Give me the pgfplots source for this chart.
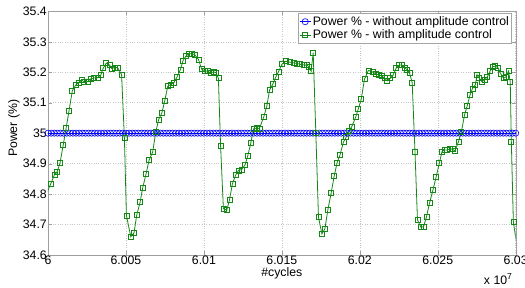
\documentclass[border=0pt]{standalone}
\usepackage{fontspec}
\setmainfont{Liberation Sans}
\usepackage{pgfplots}
\pgfplotsset{compat=1.18}
\definecolor{mgreen}{RGB}{20,135,20}
\definecolor{mblue}{RGB}{0,0,255}
\newcommand\fs{\fontsize{12.3}{14}\selectfont}
\begin{document}
\begin{tikzpicture}
\begin{axis}[
  name=ax,
  scale only axis, width=467.7pt, height=243.7pt,
  xmin=6, xmax=6.03, ymin=34.6, ymax=35.4,
  xtick={6,6.005,6.01,6.015,6.02,6.025,6.03},
  xticklabels={6,6.005,6.01,6.015,6.02,6.025,6.03},
  ytick={34.6,34.7,34.8,34.9,35,35.1,35.2,35.3,35.4},
  yticklabels={34.6,34.7,34.8,34.9,35,35.1,35.2,35.3,35.4},
  grid=major, major grid style={gray!45, dotted, line width=0.5pt},
  axis line style={gray!75},
  tick style={gray!75}, tick align=inside, major tick length=4pt,
  ticklabel style={font=\fs},
  xticklabel style={inner sep=1pt},
  yticklabel style={inner sep=1pt},
  /pgf/number format/assume math mode=true,
  xlabel={\#cycles}, ylabel={Power (\%)},
  xlabel style={font=\fs, at={(axis description cs:0.5,0)}, anchor=center, yshift=-18pt},
  ylabel style={font=\fs, at={(axis description cs:-0.073,0.52)}, anchor=center},
  legend style={font=\fs, at={(axis description cs:1,1)}, anchor=north east, xshift=-4pt, yshift=-2pt,
    draw=gray!70, inner xsep=1pt, inner ysep=1.5pt, nodes={inner sep=1.5pt}, cells={anchor=west}},
  legend image code/.code={\draw[mark repeat=2,mark phase=2] plot coordinates {(0cm,0cm) (0.2cm,0cm) (0.4cm,0cm)};},
]
\addplot[mblue, line width=0.8pt, mark=o, mark size=3.1pt, mark options={solid, line width=0.6pt}] coordinates {
(6.0000,35)(6.0002,35)(6.0004,35)(6.0006,35)(6.0008,35)(6.0010,35)(6.0012,35)(6.0014,35)(6.0016,35)(6.0018,35)
(6.0020,35)(6.0022,35)(6.0024,35)(6.0026,35)(6.0028,35)(6.0030,35)(6.0032,35)(6.0034,35)(6.0036,35)(6.0038,35)
(6.0040,35)(6.0042,35)(6.0044,35)(6.0046,35)(6.0048,35)(6.0050,35)(6.0052,35)(6.0054,35)(6.0056,35)(6.0058,35)
(6.0060,35)(6.0062,35)(6.0064,35)(6.0066,35)(6.0068,35)(6.0070,35)(6.0072,35)(6.0074,35)(6.0076,35)(6.0078,35)
(6.0080,35)(6.0082,35)(6.0084,35)(6.0086,35)(6.0088,35)(6.0090,35)(6.0092,35)(6.0094,35)(6.0096,35)(6.0098,35)
(6.0100,35)(6.0102,35)(6.0104,35)(6.0106,35)(6.0108,35)(6.0110,35)(6.0112,35)(6.0114,35)(6.0116,35)(6.0118,35)
(6.0120,35)(6.0122,35)(6.0124,35)(6.0126,35)(6.0128,35)(6.0130,35)(6.0132,35)(6.0134,35)(6.0136,35)(6.0138,35)
(6.0140,35)(6.0142,35)(6.0144,35)(6.0146,35)(6.0148,35)(6.0150,35)(6.0152,35)(6.0154,35)(6.0156,35)(6.0158,35)
(6.0160,35)(6.0162,35)(6.0164,35)(6.0166,35)(6.0168,35)(6.0170,35)(6.0172,35)(6.0174,35)(6.0176,35)(6.0178,35)
(6.0180,35)(6.0182,35)(6.0184,35)(6.0186,35)(6.0188,35)(6.0190,35)(6.0192,35)(6.0194,35)(6.0196,35)(6.0198,35)
(6.0200,35)(6.0202,35)(6.0204,35)(6.0206,35)(6.0208,35)(6.0210,35)(6.0212,35)(6.0214,35)(6.0216,35)(6.0218,35)
(6.0220,35)(6.0222,35)(6.0224,35)(6.0226,35)(6.0228,35)(6.0230,35)(6.0232,35)(6.0234,35)(6.0236,35)(6.0238,35)
(6.0240,35)(6.0242,35)(6.0244,35)(6.0246,35)(6.0248,35)(6.0250,35)(6.0252,35)(6.0254,35)(6.0256,35)(6.0258,35)
(6.0260,35)(6.0262,35)(6.0264,35)(6.0266,35)(6.0268,35)(6.0270,35)(6.0272,35)(6.0274,35)(6.0276,35)(6.0278,35)
(6.0280,35)(6.0282,35)(6.0284,35)(6.0286,35)(6.0288,35)(6.0290,35)(6.0292,35)(6.0294,35)(6.0296,35)(6.0298,35)
(6.0300,35)
};
\addlegendentry{Power \% - without amplitude control}
\addplot[mgreen, line width=0.8pt, mark=square, mark size=2.5pt, mark options={solid, line width=0.7pt}] coordinates {
(6.00017,34.833)(6.00041,34.863)(6.00058,34.872)(6.00077,34.902)(6.00098,34.962)(6.00116,35.016)
(6.00135,35.074)(6.00156,35.139)(6.00178,35.158)(6.00195,35.165)(6.00216,35.174)(6.00233,35.168)
(6.00255,35.170)(6.00276,35.179)(6.00297,35.181)(6.00317,35.182)(6.00338,35.190)(6.00355,35.214)
(6.00374,35.230)(6.00394,35.224)(6.00409,35.212)(6.00426,35.216)(6.00447,35.215)(6.00472,35.192)
(6.00490,34.985)(6.00503,34.730)(6.00531,34.660)(6.00552,34.673)(6.00569,34.731)(6.00591,34.774)
(6.00608,34.822)(6.00629,34.866)(6.00648,34.911)(6.00672,34.939)(6.00691,35.003)(6.00710,35.045)
(6.00730,35.066)(6.00749,35.106)(6.00768,35.154)(6.00787,35.160)(6.00807,35.165)(6.00828,35.185)
(6.00849,35.208)(6.00866,35.238)(6.00886,35.254)(6.00905,35.261)(6.00922,35.261)(6.00941,35.258)
(6.00965,35.242)(6.00986,35.210)(6.01005,35.205)(6.01025,35.203)(6.01042,35.198)(6.01062,35.201)
(6.01078,35.199)(6.01093,35.180)(6.01107,34.959)(6.01125,34.752)(6.01147,34.747)(6.01164,34.781)
(6.01183,34.834)(6.01205,34.864)(6.01221,34.877)(6.01243,34.881)(6.01264,34.896)(6.01282,34.927)
(6.01301,34.968)(6.01318,35.014)(6.01339,35.017)(6.01356,35.015)(6.01385,35.055)(6.01404,35.090)
(6.01421,35.141)(6.01442,35.161)(6.01461,35.184)(6.01478,35.201)(6.01500,35.226)(6.01525,35.236)
(6.01553,35.233)(6.01574,35.231)(6.01596,35.229)(6.01617,35.226)(6.01639,35.224)(6.01660,35.223)
(6.01675,35.218)(6.01688,35.203)(6.01701,35.264)(6.01718,35.000)(6.01735,34.724)(6.01757,34.669)
(6.01776,34.686)(6.01795,34.748)(6.01816,34.803)(6.01836,34.860)(6.01855,34.904)(6.01874,34.930)
(6.01895,34.971)(6.01913,34.987)(6.01930,35.006)(6.01949,35.022)(6.01973,35.052)(6.01990,35.079)
(6.02009,35.111)(6.02030,35.177)(6.02055,35.206)(6.02082,35.201)(6.02103,35.194)(6.02125,35.190)
(6.02142,35.188)(6.02159,35.180)(6.02176,35.172)(6.02195,35.180)(6.02214,35.191)(6.02234,35.214)
(6.02253,35.224)(6.02270,35.224)(6.02287,35.216)(6.02304,35.207)(6.02319,35.197)(6.02336,35.166)
(6.02354,34.939)(6.02370,34.715)(6.02392,34.691)(6.02409,34.693)(6.02428,34.726)(6.02447,34.770)
(6.02469,34.813)(6.02490,34.857)(6.02510,34.901)(6.02527,34.939)(6.02544,34.945)(6.02561,34.945)
(6.02578,34.949)(6.02595,34.947)(6.02610,34.941)(6.02633,34.972)(6.02651,35.003)(6.02672,35.060)
(6.02689,35.090)(6.02707,35.125)(6.02723,35.147)(6.02741,35.158)(6.02752,35.192)(6.02766,35.180)
(6.02784,35.169)(6.02800,35.174)(6.02818,35.185)(6.02835,35.203)(6.02852,35.218)(6.02869,35.220)
(6.02886,35.215)(6.02903,35.196)(6.02922,35.180)(6.02938,35.185)(6.02954,35.204)(6.02965,35.169)
(6.02972,34.972)(6.02985,34.709)
};
\addlegendentry{Power \% - with amplitude control}
\addplot[mgreen, line width=0.8pt, no marks, forget plot] coordinates {(5.99980,34.790)(6.00017,34.833)};
\addplot[mgreen, line width=0.8pt, no marks, forget plot] coordinates {(6.02985,34.709)(6.03030,34.550)};
\end{axis}
\node[font=\fs, anchor=base east, inner sep=0pt] at ([xshift=-3pt, yshift=-29pt]ax.south east) {x 10\textsuperscript{7}};
\pgfresetboundingbox
\useasboundingbox (-48pt,-32pt) rectangle (477pt,255pt);
\end{tikzpicture}
\end{document}
